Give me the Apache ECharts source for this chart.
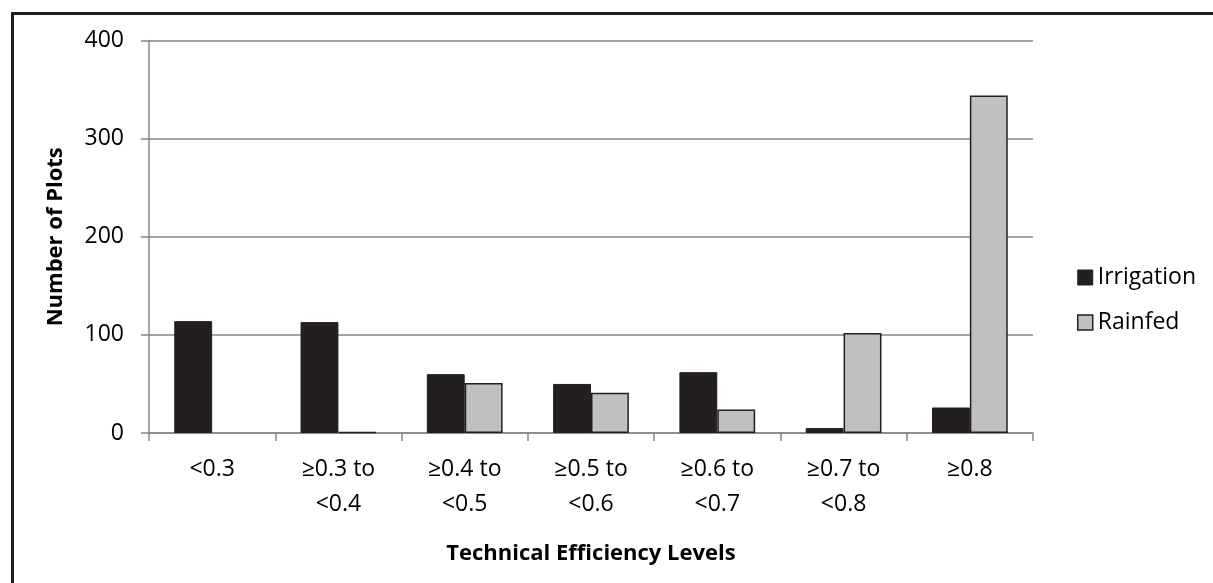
<!DOCTYPE html>
<html><head><meta charset="utf-8">
<script src="https://cdn.jsdelivr.net/npm/echarts@6/dist/echarts.min.js"></script>
<style>html,body{margin:0;padding:0;background:#fff;}#c{width:1213px;height:583px;}</style>
</head><body><div id="c"></div>
<script>
const categories = ['<0.3', '≥0.3 to\n<0.4', '≥0.4 to\n<0.5', '≥0.5 to\n<0.6', '≥0.6 to\n<0.7', '≥0.7 to\n<0.8', '≥0.8'];
const irrigation = [114, 113, 60, 50, 62, 5, 26];
const rainfed = [0, 1, 51, 41, 24, 102, 344];
const yTicks = [0, 100, 200, 300, 400];

const font = '"Open Sans", "Noto Sans", sans-serif';
const dark = '#231f20';
const light = '#bfc0c2';
const noZeroBorder = arr => arr.map(v => v === 0 ? {value: v, itemStyle: {borderWidth: 0}} : v);

const chart = echarts.init(document.getElementById('c'), null, {renderer: 'canvas'});
chart.setOption({
  animation: false,
  backgroundColor: '#fff',
  graphic: [{
    type: 'rect', left: 10, top: 11, z: 100,
    shape: {width: 1400, height: 800},
    style: {fill: 'none', stroke: dark, lineWidth: 3}
  }],
  grid: {left: 149, top: 40.5, right: 180, bottom: 150, containLabel: false},
  legend: {
    orient: 'vertical', left: 1077, top: 266, padding: 0, itemWidth: 15, itemHeight: 15, itemGap: 22,
    icon: 'rect',
    textStyle: {fontFamily: font, fontSize: 23, color: '#000'},
    data: [
      {name: 'Irrigation', itemStyle: {color: dark, borderColor: dark, borderWidth: 1}},
      {name: 'Rainfed', itemStyle: {color: light, borderColor: dark, borderWidth: 1.5}}
    ]
  },
  xAxis: {
    type: 'category', data: categories,
    name: 'Technical Efficiency Levels', nameLocation: 'middle', nameGap: 110,
    nameTextStyle: {fontFamily: font, fontSize: 22, fontWeight: 'bold', color: '#000'},
    axisLine: {lineStyle: {color: '#868686', width: 1.5}},
    axisTick: {show: true, length: 8, lineStyle: {color: '#868686', width: 1.5}},
    axisLabel: {fontFamily: font, fontSize: 23, color: '#000', margin: 19, lineHeight: 35, interval: 0}
  },
  yAxis: {
    type: 'value', min: yTicks[0], max: yTicks[yTicks.length - 1], interval: 100,
    name: 'Number of Plots', nameLocation: 'middle', nameGap: 82, nameRotate: 90,
    nameTextStyle: {fontFamily: font, fontSize: 22, fontWeight: 'bold', color: '#000'},
    axisLine: {show: true, lineStyle: {color: '#868686', width: 1.5}},
    axisTick: {show: true, length: 8, lineStyle: {color: '#868686', width: 1.5}},
    splitLine: {lineStyle: {color: '#868686', width: 1.5}},
    axisLabel: {fontFamily: font, fontSize: 23, color: '#000', margin: 25}
  },
  series: [
    {name: 'Irrigation', type: 'bar', data: noZeroBorder(irrigation), barGap: '0%', barCategoryGap: '40%',
     itemStyle: {color: dark, borderColor: dark, borderWidth: 1}},
    {name: 'Rainfed', type: 'bar', data: noZeroBorder(rainfed),
     itemStyle: {color: light, borderColor: dark, borderWidth: 1.5}}
  ]
});
</script></body></html>
